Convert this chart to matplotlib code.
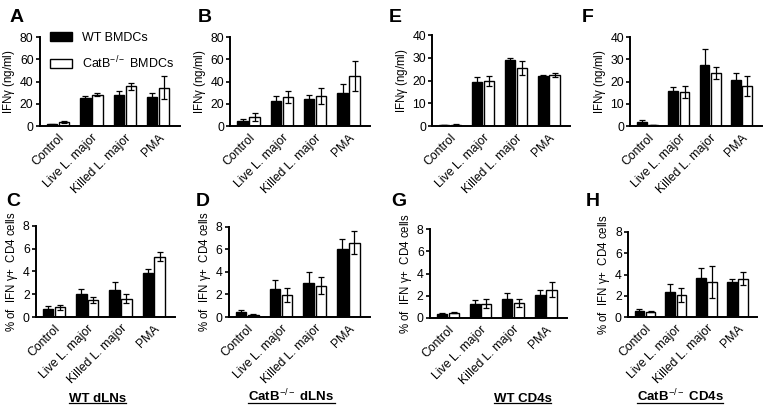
import numpy as np
import matplotlib
matplotlib.use("Agg")
import matplotlib.pyplot as plt
from matplotlib.lines import Line2D

plt.rcParams['font.family'] = ['Liberation Sans', 'DejaVu Sans']
plt.rcParams['mathtext.fontset'] = 'custom'
plt.rcParams['mathtext.rm'] = 'Liberation Sans'
plt.rcParams['mathtext.it'] = 'Liberation Sans'

categories = ['Control', 'Live L. major', 'Killed L. major', 'PMA']
series_names = ['WT BMDCs', r'CatB$^{-/-}$ BMDCs']

# each panel: WT mean / err, CatB-/- mean / err
A_wt = [1.5, 25.3, 28.3, 26.2]
A_wt_err = [0.6, 1.4, 3.2, 3.8]
A_ko = [3.8, 28.4, 35.7, 34.6]
A_ko_err = [1.2, 1.7, 3.0, 10.0]

B_wt = [4.5, 22.7, 24.8, 29.9]
B_wt_err = [2.3, 4.5, 3.6, 8.3]
B_ko = [8.3, 26.2, 27.2, 45.0]
B_ko_err = [3.8, 5.0, 7.4, 13.8]

E_wt = [0.5, 19.5, 29.0, 22.0]
E_wt_err = [0.1, 2.2, 0.9, 0.6]
E_ko = [0.7, 19.9, 25.5, 22.4]
E_ko_err = [0.1, 2.2, 3.1, 0.9]

F_wt = [1.8, 15.6, 27.4, 20.7]
F_wt_err = [0.9, 2.2, 7.1, 3.3]
F_ko = [0.5, 15.3, 24.0, 18.2]
F_ko_err = [0.1, 2.8, 2.7, 4.5]

C_wt = [0.74, 2.03, 2.41, 3.85]
C_wt_err = [0.2, 0.4, 0.7, 0.38]
C_ko = [0.85, 1.53, 1.62, 5.3]
C_ko_err = [0.25, 0.27, 0.38, 0.38]

D_wt = [0.44, 2.46, 3.0, 5.99]
D_wt_err = [0.15, 0.8, 0.95, 0.88]
D_ko = [0.2, 1.93, 2.79, 6.58]
D_ko_err = [0.03, 0.6, 0.77, 1.0]

G_wt = [0.39, 1.29, 1.71, 2.02]
G_wt_err = [0.03, 0.3, 0.5, 0.48]
G_ko = [0.45, 1.26, 1.35, 2.53]
G_ko_err = [0.05, 0.4, 0.33, 0.66]

H_wt = [0.56, 2.35, 3.67, 3.32]
H_wt_err = [0.19, 0.78, 0.91, 0.22]
H_ko = [0.5, 2.07, 3.26, 3.6]
H_ko_err = [0.03, 0.69, 1.5, 0.63]

ifn_label = r'IFN$\gamma$ (ng/ml)'
pct_label = r'% of  IFN $\gamma$+  CD4 cells'

panels = [
    # letter, rect, wt, wterr, ko, koerr, ymax, step, ylabel, letter pos
    ('A', [0.052, 0.690, 0.183, 0.219], A_wt, A_wt_err, A_ko, A_ko_err, 80, 20, ifn_label, (0.012, 0.978)),
    ('B', [0.301, 0.690, 0.183, 0.219], B_wt, B_wt_err, B_ko, B_ko_err, 80, 20, ifn_label, (0.258, 0.978)),
    ('E', [0.565, 0.690, 0.180, 0.224], E_wt, E_wt_err, E_ko, E_ko_err, 40, 10, ifn_label, (0.508, 0.978)),
    ('F', [0.824, 0.690, 0.172, 0.219], F_wt, F_wt_err, F_ko, F_ko_err, 40, 10, ifn_label, (0.760, 0.978)),
    ('C', [0.047, 0.221, 0.182, 0.224], C_wt, C_wt_err, C_ko, C_ko_err, 8, 2, pct_label, (0.008, 0.527)),
    ('D', [0.299, 0.221, 0.185, 0.222], D_wt, D_wt_err, D_ko, D_ko_err, 8, 2, pct_label, (0.256, 0.527)),
    ('G', [0.562, 0.219, 0.179, 0.218], G_wt, G_wt_err, G_ko, G_ko_err, 8, 2, pct_label, (0.512, 0.527)),
    ('H', [0.821, 0.221, 0.169, 0.209], H_wt, H_wt_err, H_ko, H_ko_err, 8, 2, pct_label, (0.766, 0.527)),
]

subtitles = [('WT dLNs', 0.127), (r'CatB$^{-/-}$ dLNs', 0.381), ('WT CD4s', 0.683), (r'CatB$^{-/-}$ CD4s', 0.889)]

fig = plt.figure(figsize=(7.65, 4.07), dpi=100)

x = np.arange(len(categories))
w = 0.31
gap = 0.05
ekw = dict(ecolor='black', elinewidth=0.9, capsize=2.5, capthick=0.9)

for letter, rect, wt, wterr, ko, koerr, ymax, step, ylab, lpos in panels:
    ax = fig.add_axes(rect)
    ax.bar(x - (w + gap) / 2, wt, w, yerr=wterr, color='black', edgecolor='black',
           linewidth=1, error_kw=ekw, label=series_names[0])
    ax.bar(x + (w + gap) / 2, ko, w, yerr=koerr, color='white', edgecolor='black',
           linewidth=1, error_kw=ekw, label=series_names[1])
    ax.set_xlim(-0.55, 3.65)
    ax.set_ylim(0, ymax)
    ax.set_yticks(np.arange(0, ymax + step / 2, step))
    ax.set_xticks(x)
    ax.set_xticklabels(categories, rotation=45, ha='right', rotation_mode='anchor', fontsize=8.8)
    ax.tick_params(axis='x', length=0, pad=4)
    ax.tick_params(axis='y', labelsize=8.8, length=3, width=1.2, pad=1.5)
    ax.spines['top'].set_visible(False)
    ax.spines['right'].set_visible(False)
    ax.spines['left'].set_linewidth(1.4)
    ax.spines['bottom'].set_linewidth(1.4)
    ax.set_ylabel(ylab, fontsize=8.3, labelpad=2)
    fig.text(lpos[0], lpos[1], letter, fontsize=14, fontweight='bold', va='top', ha='left')
    if letter == 'A':
        ax.legend(loc='upper left', bbox_to_anchor=(0.04, 1.11), frameon=False, fontsize=9,
                  handlelength=1.75, handleheight=0.75, labelspacing=0.8, handletextpad=0.8,
                  borderaxespad=0)

texts = []
for label, cx in subtitles:
    t = fig.text(cx, 0.006, label, fontsize=9.5, fontweight='bold', ha='center', va='bottom')
    texts.append(t)

fig.canvas.draw()
renderer = fig.canvas.get_renderer()
for t in texts:
    bb = t.get_window_extent(renderer).transformed(fig.transFigure.inverted())
    fig.add_artist(Line2D([bb.x0, bb.x1], [bb.y0 + 0.003, bb.y0 + 0.003],
                          transform=fig.transFigure, color='black', linewidth=0.9))

fig.savefig('out.png', dpi=100)
